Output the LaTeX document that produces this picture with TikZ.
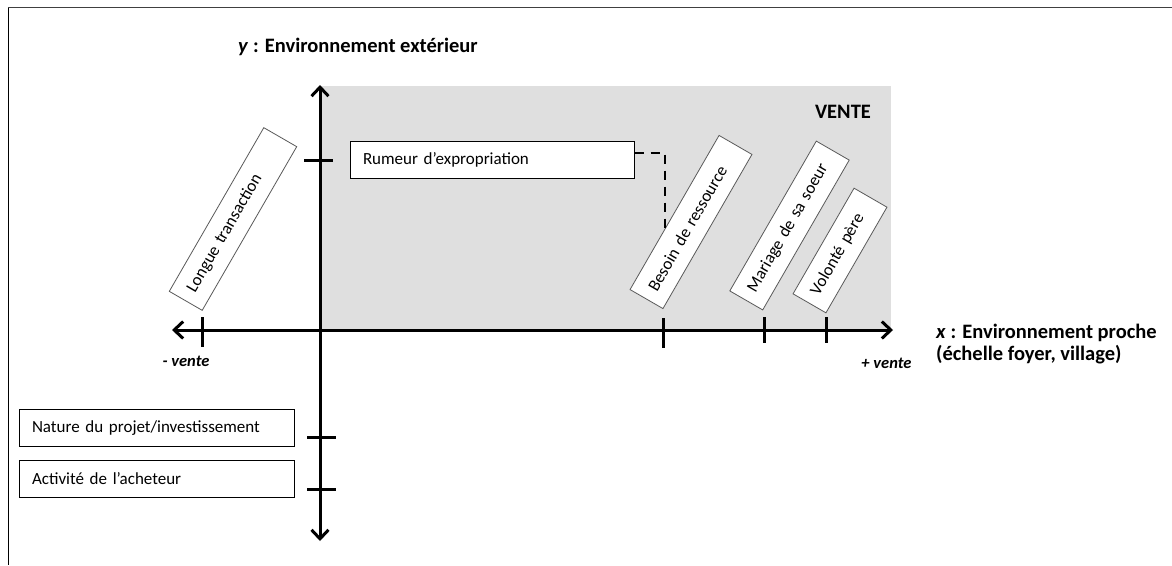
\documentclass[tikz,border=0pt]{standalone}
\usepackage{fontspec}
\setmainfont{Carlito}
\usetikzlibrary{arrows.meta,calc}
\begin{document}
\begin{tikzpicture}[x=1pt,y=-1pt,
  axis/.style={line width=3pt,{Straight Barb[length=9pt,width=17pt]}-{Straight Barb[length=9pt,width=17pt]}},
  tickmark/.style={line width=3pt},
  txt/.style={font=\fontsize{17}{20}\selectfont},
  hbox/.style={txt,draw=black,line width=1pt,fill=white,minimum height=37pt,inner xsep=13pt,inner ysep=0pt,align=left},
  rbox/.style={txt,draw=black!65,line width=0.8pt,fill=white,rotate=60,minimum height=38pt,inner xsep=11pt,inner ysep=0pt,align=left},
  lbl/.style={font=\bfseries\fontsize{20.5}{22}\selectfont,inner sep=0pt},
  small/.style={font=\bfseries\itshape\fontsize{16.5}{18}\selectfont,inner sep=0pt},
  conn/.style={line width=2.5pt,dash pattern=on 9pt off 7pt}
]
\useasboundingbox (0,0) rectangle (1172,565);
% frame
\draw[line width=1.5pt,black!75] (8,7.5) -- (1172,7.5);
\draw[line width=1pt,black] (8,7.5) -- (8,565);
% shaded area
\fill[gray!25] (320,86) rectangle (891,330);
% axes
\coordinate (ytop) at (320,85);
\coordinate (ybot) at (320,541);
\coordinate (xleft) at (172,330);
\coordinate (xright) at (893,330);
\draw[axis] (ybot) -- (ytop);
\draw[axis] (xleft) -- (xright);
% ticks
\draw[tickmark] (202,317) -- (202,347);
\draw[tickmark] (663,318) -- (663,348);
\draw[tickmark] (764,317) -- (764,343);
\draw[tickmark] (826,317) -- (826,343);
\draw[tickmark] (304,160) -- (333,160);
\draw[tickmark] (307,437) -- (336,437);
\draw[tickmark] (307,489) -- (336,489);
% labels
\node[lbl,anchor=west] (ylab) at (238,47) {\textit{y} : Environnement extérieur};
\node[lbl,anchor=west,align=left] (xlab) at (936,344) {\textit{x} : Environnement proche\\(échelle foyer, village)};
\node[lbl] (vente) at (843,112) {VENTE};
\node[small] (moins) at (186,361) {- vente};
\node[small] (plus) at (886.5,363) {+ vente};
% horizontal boxes
\node[hbox,text width=258pt] (rumeur) at (492,159.5) {Rumeur d’expropriation};
\node[hbox,text width=249pt] (nature) at (156.5,428) {Nature du projet/investissement};
\node[hbox,text width=249pt] (activite) at (156.5,479) {Activité de l’acheteur};
% rotated boxes
\node[rbox,text width=167pt] (longue) at (233,219) {Longue transaction};
\node[rbox,text width=156pt] (besoin) at (691,222) {Besoin de ressource};
\node[rbox,text width=151pt] (mariage) at (789.5,225.5) {Mariage de sa soeur};
\node[rbox,text width=100pt] (volonte) at (840,250.5) {Volonté père};
% dashed connector
\coordinate (bhit) at ($(besoin.north)!0.21!(besoin.north west)$);
\draw[conn] ($(rumeur.east)+(0,-6.5)$) -| (bhit);
\end{tikzpicture}
\end{document}
